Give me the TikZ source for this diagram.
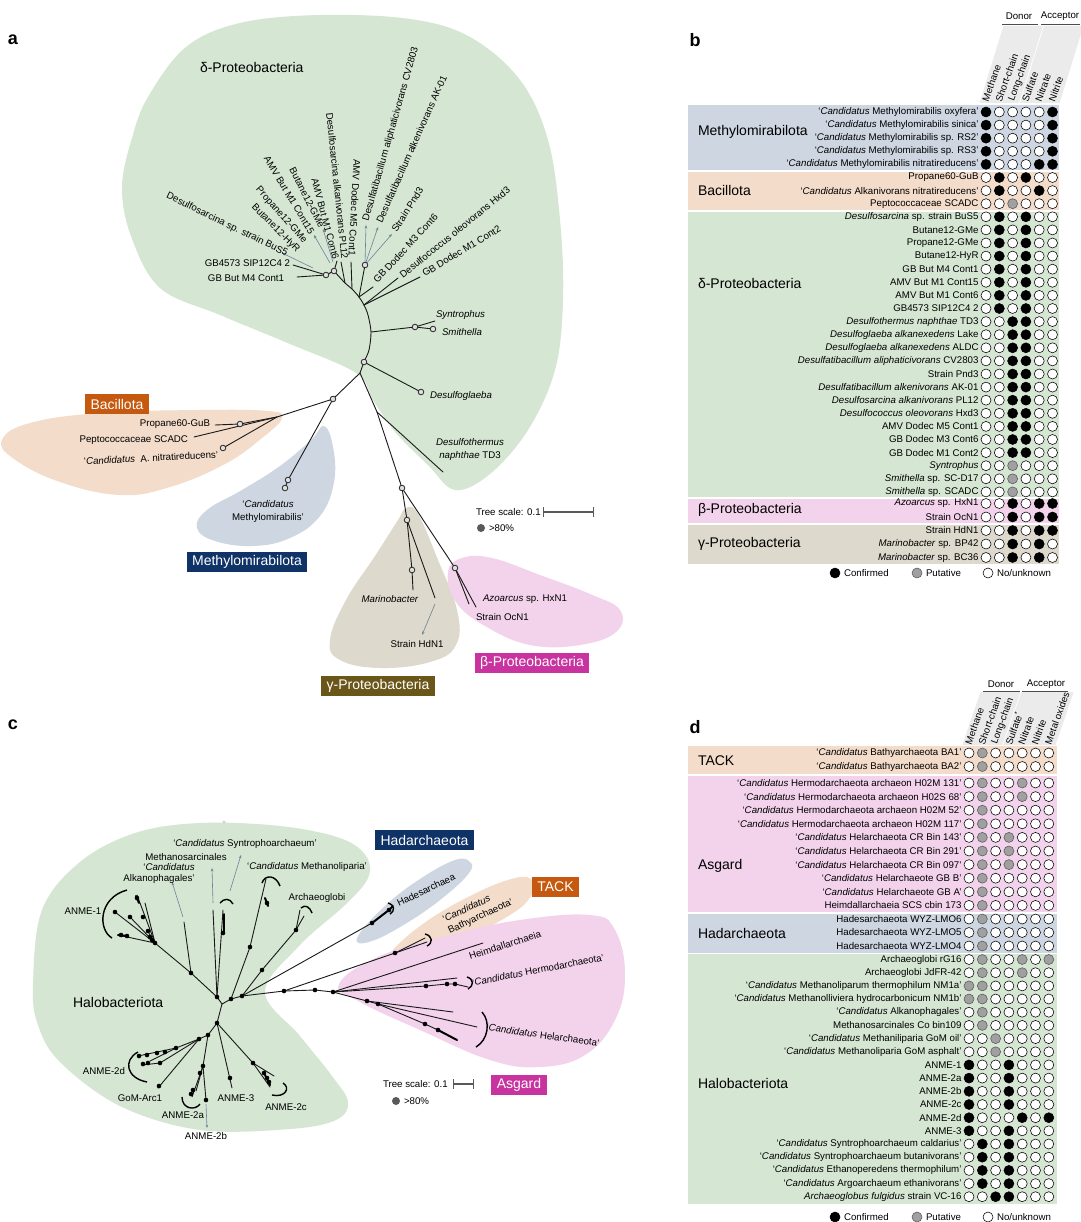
\documentclass[tikz,border=0pt]{standalone}
\usepackage{fontspec}
\setmainfont{Liberation Sans}
\usetikzlibrary{arrows.meta}
\definecolor{cgreen}{HTML}{D5E6D3}
\definecolor{cblue}{HTML}{CDD6E1}
\definecolor{cpeach}{HTML}{F3DCCA}
\definecolor{cpink}{HTML}{F3D3EB}
\definecolor{ctan}{HTML}{DDD9CC}
\definecolor{bxorange}{HTML}{C4590F}
\definecolor{bxnavy}{HTML}{0F3366}
\definecolor{bxolive}{HTML}{6B5619}
\definecolor{bxmag}{HTML}{C8339F}
\definecolor{cgray}{HTML}{A0A0A0}
\definecolor{arrowc}{HTML}{6F819B}
\definecolor{hdrgray}{HTML}{EBEBEB}
\newcommand\Ca{\textit{Candidatus}}
\newcommand\smf{\fontsize{9.7}{12.5}\selectfont}
\newcommand\grpf{\fontsize{14}{16}\selectfont}
\newcommand\trow[5]{%
  \node[rowlab] (#1) at ({#2-7.5},#3) {#4};
  \foreach \cc [count=\jj from 0] in {#5} {\node[c\cc] (#1-\jj) at ({#2+13.3*\jj},#3) {};}%
}
\tikzset{
 sm/.style={font=\smf, inner sep=0pt, outer sep=0pt},
 rowlab/.style={sm, anchor=east},
 grp/.style={font=\grpf, inner sep=0pt, outer sep=0pt, anchor=west},
 cF/.style={circle, draw=black, fill=black, line width=0.55pt, minimum size=10pt, inner sep=0pt, outer sep=0pt},
 cG/.style={cF, draw=black!65, fill=cgray},
 cO/.style={cF, fill=white},
 labbox/.style={font=\grpf, text=white, inner xsep=5.5pt, inner ysep=0pt, minimum height=20pt, outer sep=0pt},
 branch/.style={line width=0.9pt, black!90, line cap=round},
 thk/.style={line width=2pt, black, line cap=round},
 brk/.style={line width=1.4pt, black},
 arr/.style={line width=0.6pt, arrowc, -{Stealth[length=3.5pt,width=2.6pt]}},
 tcirc/.style={line width=0.8pt, draw=black!85, fill=gray!25},
 plet/.style={font=\bfseries\fontsize{18}{20}\selectfont, inner sep=0pt},
 colh/.style={sm, rotate=70, anchor=west},
}
\begin{document}
\begin{tikzpicture}[x=1pt,y=-1pt]
\fill[white] (0,0) rectangle (1080,1222);
\useasboundingbox (0,0) rectangle (1080,1222);

%%%%%%%%%%%%%%%% PANEL A %%%%%%%%%%%%%%%%
\node[plet] (pa) at (13,40) {a};
\fill[cgreen] plot[smooth cycle, tension=0.6] coordinates {(122,187) (132,138) (148,97) (186,47) (240,23) (320,15) (410,19) (470,37) (520,80) (548,140) (560,220) (563,300) (555,370) (528,430) (490,474) (455,490) (428,465) (395,432) (373,400) (356,373) (290,344) (220,315) (160,288) (131,236)};
\fill[cpeach] plot[smooth cycle, tension=0.7] coordinates {(2,440) (30,423) (100,413) (200,410) (268,411) (282,418) (262,438) (225,464) (170,487) (120,495) (60,482) (14,459)};
\fill[cblue] plot[smooth cycle, tension=0.7] coordinates {(324,426) (333,447) (334,482) (320,516) (290,538) (253,546) (215,541) (197,528) (207,510) (242,490) (280,466) (311,440)};
\fill[ctan] plot[smooth cycle, tension=0.7] coordinates {(406,508) (418,514) (438,560) (457,610) (456,645) (430,662) (380,668) (340,660) (330,640) (346,600) (375,556) (398,520)};
\fill[cpink] plot[smooth cycle, tension=0.7] coordinates {(448,572) (462,558) (492,558) (540,575) (590,594) (620,610) (616,632) (580,645) (530,645) (485,626) (456,602)};

\coordinate (c1) at (326,275);
\coordinate (t1) at (334,271);
\coordinate (t2) at (345,283);
\coordinate (tm5) at (352,289);
\coordinate (t3) at (359,297);
\coordinate (t34) at (364,305);
\coordinate (t4) at (368,315);
\coordinate (t5) at (371,332);
\coordinate (t6) at (369,350);
\coordinate (n1) at (364,362);
\coordinate (n2) at (360,373);
\coordinate (n3) at (377,412);
\coordinate (n4) at (402,488);
\draw[branch] plot[smooth, tension=0.5] coordinates {(t1) (t2) (tm5) (t3) (t34) (t4) (t5) (t6) (n1) (n2)};
\draw[branch] (n2) -- (n3) -- (n4);
\coordinate (gb1) at (293,265);
\coordinate (gb2) at (297,277);
\draw[branch] (gb1) -- (c1) -- (t1);
\draw[branch] (gb2) -- (c1);
\coordinate (lc6) at (337,261);
\draw[branch] (t1) -- (lc6);
\coordinate (lpl) at (341,262);
\draw[branch] (t2) -- (lpl);
\coordinate (lm5) at (351,262);
\draw[branch] (tm5) -- (lm5);
\coordinate (dd) at (365,265);
\draw[branch] (t3) -- (dd);
\coordinate (lm3) at (373,287);
\draw[branch] (t3) -- (lm3);
\coordinate (lhx) at (398,278);
\draw[branch] (t34) -- (lhx);
\coordinate (lm1) at (420,277);
\draw[branch] (t34) -- (lm1);
\coordinate (aB0) at (313,268);
\coordinate (aB1) at (282,253);
\draw[arr] (aB0) -- (aB1);
\coordinate (aC0) at (330,263);
\coordinate (aC1) at (314,235);
\draw[arr] (aC0) -- (aC1);
\coordinate (aG0) at (333,262);
\coordinate (aG1) at (323,229);
\draw[arr] (aG0) -- (aG1);
\coordinate (aCV) at (366,225);
\coordinate (aAK) at (378,227);
\coordinate (aPn) at (392,234);
\draw[arr] (dd) -- (aCV);
\draw[arr] (dd) -- (aAK);
\draw[arr] (dd) -- (aPn);
\coordinate (sy0) at (415,327);
\coordinate (sy1) at (433,329);
\coordinate (sy2) at (435,321);
\draw[branch] (t5) -- (sy0) -- (sy1);
\draw[branch] (sy0) -- (sy2);
\coordinate (dg) at (421,392);
\draw[branch] (n1) -- (dg);
\coordinate (dt) at (443,472);
\draw[branch] (n3) -- (dt);
\coordinate (g0) at (407,520);
\coordinate (g1) at (412,570);
\coordinate (g2) at (413,590);
\coordinate (g3) at (435,598);
\draw[branch] (n4) -- (g0) -- (g1) -- (g2);
\draw[branch] (g0) -- (g3);
\coordinate (ga0) at (435,604);
\coordinate (ga1) at (422,635);
\draw[arr] (ga0) -- (ga1);
\coordinate (b0) at (455,568);
\coordinate (b1) at (476,607);
\coordinate (b2) at (469,604);
\draw[branch] (n4) -- (b0) -- (b1);
\draw[branch] (b0) -- (b2);
\coordinate (k0) at (333,399);
\coordinate (k1) at (277,417);
\coordinate (k2) at (240,424);
\coordinate (k3) at (215,425);
\coordinate (k4) at (194,437);
\coordinate (k5) at (223,448);
\draw[branch] (n2) -- (k0) -- (k1) -- (k2) -- (k3);
\draw[branch] (k1) -- (k4);
\draw[branch] (k1) -- (k5);
\coordinate (m0) at (288,480);
\coordinate (m1) at (285,488);
\draw[branch] (k0) -- (m0) -- (m1);
\foreach \p in {c1,t1,dd,sy0,sy1,dg,n1,k0,k2,k5,m0,m1,n4,g0,g1,b0} {\draw[tcirc] (\p) circle[radius=2.8pt];}

\node[grp] (la-delta) at (200,67) {δ-Proteobacteria};
\node[sm,anchor=east] (lGB4573) at (290,263) {GB4573 SIP12C4 2};
\node[sm,anchor=east] (lGBM4) at (284,278) {GB But M4 Cont1};
\node[sm,rotate=-26,anchor=east] (lBuS5) at (287,254) {Desulfosarcina sp. strain BuS5};
\node[sm,rotate=-45,anchor=east] (lHyR) at (298,251) {Butane12-HyR};
\node[sm,rotate=-48.5,anchor=east] (lP12) at (305,242) {Propane12-GMe};
\node[sm,rotate=-59,anchor=east] (lC15) at (312,233) {AMV But M1 Cont15};
\node[sm,rotate=-63,anchor=east] (lB12) at (322,227) {Butane12-GMe};
\node[sm,rotate=-75,anchor=east] (lC6) at (336,259) {AMV But M1 Cont6};
\node[sm,rotate=-84,anchor=east] (lPL12) at (345,259) {Desulfosarcina alkanivorans PL12};
\node[sm,rotate=-93,anchor=east] (lM5) at (352,256) {AMV Dodec M5 Cont1};
\node[sm,rotate=74,anchor=west] (lCV) at (366,221) {Desulfatibacillum aliphaticivorans CV2803};
\node[sm,rotate=66,anchor=west] (lAK) at (379,222) {Desulfatibacillum alkenivorans AK-01};
\node[sm,rotate=58,anchor=west] (lPnd) at (394,231) {Strain Pnd3};
\node[sm,rotate=47,anchor=west] (lM3) at (375,281) {GB Dodec M3 Cont6};
\node[sm,rotate=39,anchor=west] (lHxd) at (401,276) {Desulfococcus oleovorans Hxd3};
\node[sm,rotate=31,anchor=west] (lM1) at (423,274) {GB Dodec M1 Cont2};
\node[sm,anchor=west] (lSyn) at (436,315) {\textit{Syntrophus}};
\node[sm,anchor=west] (lSmi) at (442,332) {\textit{Smithella}};
\node[sm,anchor=west] (lDg) at (430,396) {\textit{Desulfoglaeba}};
\node[sm,align=center] (lDt) at (470,449.5) {\textit{Desulfothermus}\\\textit{naphthae} TD3};
\node[sm,anchor=east] (lP60) at (210,424) {Propane60-GuB};
\node[sm,anchor=east] (lPep) at (188,440) {Peptococcaceae SCADC};
\node[sm,rotate=3] (lAn) at (151,458) {‘\Ca\ \ A. nitratireducens’};
\node[sm,align=center] (lMm) at (268,511.5) {‘\Ca\\Methylomirabilis’};
\node[sm] (lMar) at (390,599) {\textit{Marinobacter}};
\node[sm] (lHd) at (417,644) {Strain HdN1};
\node[sm,anchor=west] (lAz) at (483,599) {\textit{Azoarcus} sp. HxN1};
\node[sm,anchor=west] (lOc) at (476,617) {Strain OcN1};
\node[labbox,fill=bxorange] (bxBac) at (117,404) {Bacillota};
\node[labbox,fill=bxnavy] (bxMet) at (247,562) {Methylomirabilota};
\node[labbox,fill=bxolive] (bxGam) at (378,686) {γ-Proteobacteria};
\node[labbox,fill=bxmag] (bxBet) at (532,663) {β-Proteobacteria};
\node[sm,anchor=west] (tsa) at (476,512) {Tree scale: 0.1};
\coordinate (sba0) at (543,512);
\coordinate (sba1) at (593,512);
\draw[line width=2.6pt, black!65] (sba0) -- (sba1);
\draw[line width=0.8pt, black!65] (543,507) -- (543,517) (593,507) -- (593,517);
\fill[black!65] (481,528) circle[radius=4pt];
\node[sm,anchor=west] (p80a) at (489,528) {>80\%};

%%%%%%%%%%%%%%%% PANEL B %%%%%%%%%%%%%%%%
\node[plet] (pb) at (695,40) {b};
\fill[hdrgray] (979.5,103) -- (1019,103) -- (1043,26) -- (1003.5,26) -- cycle;
\fill[hdrgray] (1020,103) -- (1059.5,103) -- (1083.5,26) -- (1044,26) -- cycle;
\node[sm] (bDonor) at (1019,16) {Donor};
\node[sm] (bAcc) at (1060,16) {Acceptor};
\draw[line width=0.5pt, black!70] (1002,24) -- (1038,24);
\draw[line width=0.5pt, black!70] (1041,24) -- (1080,24);
\foreach \t [count=\j from 0] in {Methane,Short-chain,Long-chain,Sulfate,Nitrate,Nitrite} {\node[colh] (bh\j) at ({985+13.3*\j},101) {\t};}
\fill[cblue] (688,105.5) rectangle (1059,170.5);
\fill[cpeach] (688,172) rectangle (1059,210.5);
\fill[cgreen] (688,212) rectangle (1059,497);
\fill[cpink] (688,498.5) rectangle (1059,523);
\fill[ctan] (688,524.5) rectangle (1059,564);
\node[grp] (bgM) at (698,132) {Methylomirabilota};
\node[grp] (bgB) at (698,190.5) {Bacillota};
\node[grp] (bgD) at (698,283) {δ-Proteobacteria};
\node[grp] (bgBe) at (698,509.5) {β-Proteobacteria};
\node[grp] (bgG) at (698,544) {γ-Proteobacteria};
\trow{b01}{986}{112}{‘\Ca{} Methylomirabilis oxyfera’}{F,O,O,O,O,F}
\trow{b02}{986}{125.1}{‘\Ca{} Methylomirabilis sinica’}{F,O,O,O,O,F}
\trow{b03}{986}{138.2}{‘\Ca{} Methylomirabilis sp. RS2’}{F,O,O,O,O,F}
\trow{b04}{986}{151.3}{‘\Ca{} Methylomirabilis sp. RS3’}{F,O,O,O,O,F}
\trow{b05}{986}{164.4}{‘\Ca{} Methylomirabilis nitratireducens’}{F,O,O,O,F,F}
\trow{b06}{986}{177.5}{Propane60-GuB}{O,F,O,F,O,O}
\trow{b07}{986}{190.6}{‘\Ca{} Alkanivorans nitratireducens’}{O,F,O,O,F,O}
\trow{b08}{986}{203.7}{Peptococcaceae SCADC}{O,O,G,O,O,O}
\trow{b09}{986}{216.8}{\textit{Desulfosarcina} sp. strain BuS5}{O,F,O,F,O,O}
\trow{b10}{986}{229.9}{Butane12-GMe}{O,F,O,F,O,O}
\trow{b11}{986}{243.0}{Propane12-GMe}{O,F,O,F,O,O}
\trow{b12}{986}{256.1}{Butane12-HyR}{O,F,O,F,O,O}
\trow{b13}{986}{269.2}{GB But M4 Cont1}{O,F,O,F,O,O}
\trow{b14}{986}{282.3}{AMV But M1 Cont15}{O,F,O,F,O,O}
\trow{b15}{986}{295.4}{AMV But M1 Cont6}{O,F,O,F,O,O}
\trow{b16}{986}{308.5}{GB4573 SIP12C4 2}{O,F,O,F,O,O}
\trow{b17}{986}{321.6}{\textit{Desulfothermus naphthae} TD3}{O,O,F,F,O,O}
\trow{b18}{986}{334.7}{\textit{Desulfoglaeba alkanexedens} Lake}{O,O,F,F,O,O}
\trow{b19}{986}{347.8}{\textit{Desulfoglaeba alkanexedens} ALDC}{O,O,F,F,O,O}
\trow{b20}{986}{360.9}{\textit{Desulfatibacillum aliphaticivorans} CV2803}{O,O,F,F,O,O}
\trow{b21}{986}{374.0}{Strain Pnd3}{O,O,F,F,O,O}
\trow{b22}{986}{387.1}{\textit{Desulfatibacillum alkenivorans} AK-01}{O,O,F,F,O,O}
\trow{b23}{986}{400.2}{\textit{Desulfosarcina alkanivorans} PL12}{O,O,F,F,O,O}
\trow{b24}{986}{413.3}{\textit{Desulfococcus oleovorans} Hxd3}{O,O,F,F,O,O}
\trow{b25}{986}{426.4}{AMV Dodec M5 Cont1}{O,O,F,F,O,O}
\trow{b26}{986}{439.5}{GB Dodec M3 Cont6}{O,O,F,F,O,O}
\trow{b27}{986}{452.6}{GB Dodec M1 Cont2}{O,O,F,F,O,O}
\trow{b28}{986}{465.7}{\textit{Syntrophus}}{O,O,G,O,O,O}
\trow{b29}{986}{478.8}{\textit{Smithella} sp. SC-D17}{O,O,G,O,O,O}
\trow{b30}{986}{491.9}{\textit{Smithella} sp. SCADC}{O,O,G,O,O,O}
\trow{b31}{986}{503.5}{\textit{Azoarcus} sp. HxN1}{O,O,F,O,F,F}
\trow{b32}{986}{517}{Strain OcN1}{O,O,F,O,F,F}
\trow{b33}{986}{530.5}{Strain HdN1}{O,O,F,O,F,F}
\trow{b34}{986}{544}{\textit{Marinobacter} sp. BP42}{O,O,F,O,F,O}
\trow{b35}{986}{557.5}{\textit{Marinobacter} sp. BC36}{O,O,F,O,F,O}
\node[cF] (bl1) at (835,573) {};
\node[sm,anchor=west] (bl1t) at (844,573) {Confirmed};
\node[cG] (bl2) at (917,573) {};
\node[sm,anchor=west] (bl2t) at (926,573) {Putative};
\node[cO] (bl3) at (988,573) {};
\node[sm,anchor=west] (bl3t) at (997,573) {No/unknown};

%%%%%%%%%%%%%%%% PANEL C %%%%%%%%%%%%%%%%
\node[plet] (pc) at (13,725) {c};
\fill[cgreen] plot[smooth cycle, tension=0.6] coordinates {(33,985) (42,910) (80,862) (135,833) (200,823) (280,826) (340,838) (366,856) (368,878) (345,905) (300,945) (265,992) (300,1036) (332,1076) (348,1102) (336,1120) (290,1129) (200,1130) (120,1106) (60,1062) (38,1025)};
\fill[cblue] plot[smooth cycle, tension=0.7] coordinates {(357,938) (385,906) (420,879) (455,860) (470,862) (469,873) (445,896) (410,921) (372,941)};
\fill[cpeach] plot[smooth cycle, tension=0.7] coordinates {(389,956) (420,926) (470,896) (515,878) (533,881) (531,896) (510,915) (460,940) (410,956)};
\fill[cpink] plot[smooth cycle, tension=0.7] coordinates {(339,984) (380,956) (450,935) (520,920) (590,915) (615,930) (625,975) (615,1020) (585,1055) (540,1067) (490,1060) (420,1030) (360,1002)};
\fill[gray!35] (224,822) circle[radius=1.6pt];
\coordinate (C1) at (217,997);
\coordinate (C2) at (231,999);
\coordinate (C3) at (242,996);
\coordinate (CH) at (284,991);
\coordinate (CT) at (315,990);
\coordinate (CA) at (333,992);
\coordinate (J) at (222,1004);
\draw[branch] (C1) -- (J) -- (C2) -- (C3) -- (CH) -- (CT) -- (CA);
\coordinate (U1) at (191,973);
\coordinate (A1) at (155,943);
\draw[branch] (C1) -- (U1) -- (A1);
\coordinate (a1l1) at (137,895);
\coordinate (a1l2) at (115,912);
\coordinate (a1l3) at (130,917);
\coordinate (a1l4) at (118,935);
\coordinate (a1l5) at (145,903);
\coordinate (a1l6) at (147,930);
\foreach \p in {a1l1,a1l2,a1l3,a1l4,a1l5,a1l6} {\draw[branch] (A1) -- (\p);}
\draw[thk] (118,935) -- (127,936);
\draw[thk] (136,896) -- (139,903);
\coordinate (alk) at (184,922);
\draw[branch] (U1) -- (alk);
\coordinate (alka0) at (183,917);
\coordinate (alka1) at (172,882);
\draw[arr] (alka0) -- (alka1);
\coordinate (msr) at (213,910);
\draw[branch] (C1) -- (msr);
\coordinate (msra0) at (213,903);
\coordinate (msra1) at (212,868);
\draw[arr] (msra0) -- (msra1);
\coordinate (syn) at (223,910);
\draw[branch] (C1) -- (syn);
\draw[thk] (224,914) -- (224,932);
\coordinate (syna0) at (230,891);
\coordinate (syna1) at (241,855);
\draw[arr] (syna0) -- (syna1);
\coordinate (M1) at (250,947);
\coordinate (mlp) at (266,879);
\draw[branch] (C2) -- (M1) -- (mlp);
\draw[thk] (265,898) -- (268,906);
\coordinate (AR1) at (262,970);
\coordinate (AR2) at (296,930);
\coordinate (arl) at (300,910);
\coordinate (arl2) at (304,916);
\draw[branch] (C3) -- (AR1) -- (AR2) -- (arl);
\draw[branch] (AR2) -- (arl2);
\coordinate (L1) at (217,1023);
\coordinate (L2) at (208,1035);
\coordinate (L3) at (199,1039);
\draw[branch] (J) -- (L1) -- (L2) -- (L3);
\coordinate (D1) at (176,1048);
\coordinate (d2a) at (138,1056);
\coordinate (d2b) at (150,1061);
\coordinate (D2) at (160,1063);
\coordinate (d2c) at (142,1065);
\draw[branch] (L3) -- (D1) -- (d2a);
\draw[branch] (D1) -- (d2b);
\draw[branch] (L3) -- (D2) -- (d2c);
\coordinate (gom) at (158,1088);
\draw[branch] (L3) -- (gom);
\coordinate (E1) at (203,1066);
\coordinate (e1) at (192,1097);
\coordinate (e2) at (196,1091);
\coordinate (E2) at (206,1100);
\draw[branch] (L2) -- (E1) -- (e1);
\draw[branch] (E1) -- (e2);
\draw[branch] (E1) -- (E2);
\coordinate (ea0) at (206,1104);
\coordinate (ea1) at (207,1128);
\draw[arr] (ea0) -- (ea1);
\coordinate (a3) at (232,1088);
\draw[branch] (L1) -- (a3);
\coordinate (F1) at (253,1063);
\coordinate (f1) at (274,1076);
\coordinate (f2) at (270,1087);
\draw[branch] (L1) -- (F1) -- (f1);
\draw[branch] (F1) -- (f2);
\draw[thk] (264,1073) -- (270,1085);
\coordinate (HD1) at (372,923);
\coordinate (HD2) at (389,910);
\coordinate (hd) at (393,906);
\draw[branch] (C3) -- (HD1);
\draw[thk] (HD1) -- (HD2) -- (hd);
\coordinate (TK1) at (395,953);
\coordinate (tk1) at (425,938);
\coordinate (tk2) at (427,942);
\draw[branch] (CH) -- (TK1) -- (tk1);
\draw[branch] (TK1) -- (tk2);
\coordinate (hm) at (483,943);
\draw[branch] (CA) -- (hm);
\coordinate (HM1) at (426,986);
\coordinate (HM2) at (447,984);
\coordinate (HM3) at (455,984);
\coordinate (hmx) at (468,987);
\coordinate (hm2) at (457,978);
\draw[branch] (CA) -- (HM1) -- (HM2) -- (HM3) -- (hmx);
\draw[branch] (CA) -- (hm2);
\coordinate (HL1) at (367,1001);
\coordinate (HL2) at (378,1004);
\coordinate (hl1) at (453,1012);
\coordinate (hl2) at (477,1027);
\coordinate (HL3) at (425,1024);
\coordinate (HL4) at (438,1030);
\coordinate (hl3) at (457,1040);
\draw[branch] (CA) -- (HL1) -- (hl1);
\draw[branch] (HL1) -- (HL2) -- (hl2);
\draw[branch] (HL2) -- (HL3) -- (HL4);
\draw[thk] (HL4) -- (hl3);
\foreach \p in {C1,C2,C3,CH,CT,CA,U1,A1,M1,AR1,AR2,L1,L2,L3,D1,D2,E1,E2,F1,HD1,HD2,TK1,HM1,HM2,HM3,HL1,HL2,HL3,HL4,a1l2,a1l3} {\fill (\p) circle[radius=2.3pt];}
\foreach \q in {(150,937),(148,931),(143,917),(137,898),(121,935),(127,936),(152,940),(223,933),(267,903),(147,1055),(157,1053),(165,1052),(139,1056),(143,1064),(148,1063),(159,1086),(200,1073),(193,1090),(191,1094),(230,1078),(264,1073),(267,1078),(269,1082)} {\fill \q circle[radius=2.3pt];}
\draw[brk] (127,890) .. controls (98,898) and (98,930) .. (112,938);
\draw[brk] (262,883) .. controls (265,874) and (276,875) .. (280,886);
\draw[brk] (301,908) .. controls (305,904) and (310,907) .. (312,913);
\draw[brk] (220,903) .. controls (224,898) and (230,898) .. (233,904);
\draw[brk] (138,1052) .. controls (123,1060) and (126,1078) .. (147,1082);
\draw[brk] (182,1097) .. controls (182,1109) and (195,1111) .. (200,1104);
\draw[brk] (283,1083) .. controls (291,1088) and (285,1098) .. (272,1095);
\draw[brk] (388,903) .. controls (395,905) and (395,911) .. (390,914);
\draw[brk] (425,934) .. controls (433,936) and (433,943) .. (427,946);
\draw[brk] (467,977) .. controls (474,979) and (474,986) .. (468,989);
\draw[brk] (482,1012) .. controls (491,1022) and (488,1040) .. (476,1047);
\node[sm] (cSyn) at (245,844) {‘\Ca\ Syntrophoarchaeum’};
\node[sm] (cMsr) at (186,857) {Methanosarcinales};
\node[sm] (cCa1) at (169,867.5) {‘\Ca};
\node[sm] (cAlk) at (159,879) {Alkanophagales’};
\node[sm] (cMlp) at (307,867) {‘\Ca\ Methanoliparia’};
\node[sm] (cArc) at (317,898) {Archaeoglobi};
\node[sm] (cA1) at (83,911) {ANME-1};
\node[grp] (cHalo) at (73,1002) {Halobacteriota};
\node[sm] (cA2d) at (104,1071) {ANME-2d};
\node[sm] (cGom) at (140,1098) {GoM-Arc1};
\node[sm] (cA2a) at (183,1115) {ANME-2a};
\node[sm] (cA2b) at (206,1136) {ANME-2b};
\node[sm] (cA3) at (236,1098) {ANME-3};
\node[sm] (cA2c) at (286,1107) {ANME-2c};
\node[sm,rotate=26] (cHad) at (426,890) {Hadesarchaea};
\node[sm,rotate=25,align=left] (cBat) at (478,911) {‘\Ca\\Bathyarchaeota’};
\node[sm,rotate=18] (cHeim) at (505,945) {Heimdallarchaeia};
\node[sm,rotate=11] (cHerm) at (538,970) {‘\Ca\ Hermodarchaeota’};
\node[sm,rotate=-8] (cHel) at (543,1035) {‘\Ca\ Helarchaeota’};
\node[labbox,fill=bxnavy] (bxHad) at (424.5,840) {Hadarchaeota};
\node[labbox,fill=bxorange] (bxTack) at (555.5,886.5) {TACK};
\node[labbox,fill=bxmag] (bxAsg) at (519,1084.5) {Asgard};
\node[sm,anchor=west] (tsc) at (383,1084) {Tree scale: 0.1};
\coordinate (sbc0) at (453,1084);
\coordinate (sbc1) at (473,1084);
\draw[line width=2.6pt, black!65] (sbc0) -- (sbc1);
\draw[line width=0.8pt, black!65] (453,1079) -- (453,1089) (473,1079) -- (473,1089);
\fill[black!65] (396,1101) circle[radius=4pt];
\node[sm,anchor=west] (p80c) at (404,1101) {>80\%};

%%%%%%%%%%%%%%%% PANEL D %%%%%%%%%%%%%%%%
\node[plet] (pd) at (695,727) {d};
\fill[hdrgray] (962.3,745) -- (1002.2,745) -- (1020.4,692) -- (980.5,692) -- cycle;
\fill[hdrgray] (1003.2,745) -- (1055.5,745) -- (1073.7,692) -- (1021.4,692) -- cycle;
\node[sm] (dDonor) at (1001,684) {Donor};
\node[sm] (dAcc) at (1046,684) {Acceptor};
\draw[line width=0.5pt, black!70] (983,691) -- (1020,691);
\draw[line width=0.5pt, black!70] (1022,691) -- (1068,691);
\foreach \t [count=\j from 0] in {Methane,Short-chain,Long-chain,Sulfate\textsuperscript{*},Nitrate,Nitrite,Metal oxides} {\node[colh] (dh\j) at ({968+13.3*\j},744) {\t};}
\fill[cpeach] (688,746) rectangle (1057,773.5);
\fill[cpink] (688,775.5) rectangle (1057,912);
\fill[cblue] (688,913.5) rectangle (1057,952.5);
\fill[cgreen] (688,954) rectangle (1057,1203.5);
\node[grp] (dgT) at (698,761) {TACK};
\node[grp] (dgA) at (698,866) {Asgard};
\node[grp] (dgH) at (698,933) {Hadarchaeota};
\node[grp] (dgHa) at (698,1083) {Halobacteriota};
\trow{d01}{969}{753}{‘\Ca{} Bathyarchaeota BA1’}{O,G,O,O,O,O,O}
\trow{d02}{969}{766.5}{‘\Ca{} Bathyarchaeota BA2’}{O,G,O,O,O,O,O}
\trow{d03}{969}{783}{‘\Ca{} Hermodarchaeota archaeon H02M 131’}{O,G,O,O,G,O,O}
\trow{d04}{969}{796.6}{‘\Ca{} Hermodarchaeota archaeon H02S 68’}{O,G,O,O,G,O,O}
\trow{d05}{969}{810.2}{‘\Ca{} Hermodarchaeota archaeon H02M 52’}{O,G,O,O,O,O,O}
\trow{d06}{969}{823.8}{‘\Ca{} Hermodarchaeota archaeon H02M 117’}{O,G,O,O,O,O,O}
\trow{d07}{969}{837.4}{‘\Ca{} Helarchaeota CR Bin 143’}{O,G,O,G,O,O,O}
\trow{d08}{969}{851}{‘\Ca{} Helarchaeota CR Bin 291’}{O,G,O,G,O,O,O}
\trow{d09}{969}{864.6}{‘\Ca{} Helarchaeota CR Bin 097’}{O,G,O,G,O,O,O}
\trow{d10}{969}{878.2}{‘\Ca{} Helarchaeote GB B’}{O,G,O,O,O,O,O}
\trow{d11}{969}{891.8}{‘\Ca{} Helarchaeote GB A’}{O,G,O,O,O,O,O}
\trow{d12}{969}{905.4}{Heimdallarchaeia SCS cbin 173}{O,G,O,O,O,O,O}
\trow{d13}{969}{919}{Hadesarchaeota WYZ-LMO6}{O,G,O,O,O,O,O}
\trow{d14}{969}{932.5}{Hadesarchaeota WYZ-LMO5}{O,G,O,O,O,O,O}
\trow{d15}{969}{946}{Hadesarchaeota WYZ-LMO4}{O,G,O,O,O,O,O}
\trow{d16}{969}{959.5}{Archaeoglobi rG16}{O,G,O,O,G,O,G}
\trow{d17}{969}{972.7}{Archaeoglobi JdFR-42}{O,G,O,O,G,O,O}
\trow{d18}{969}{985.9}{‘\Ca{} Methanoliparum thermophilum NM1a’}{G,G,O,O,O,O,O}
\trow{d19}{969}{999.0}{‘\Ca{} Methanolliviera hydrocarbonicum NM1b’}{G,G,O,O,O,O,O}
\trow{d20}{969}{1012.2}{‘\Ca{} Alkanophagales’}{O,G,O,O,O,O,O}
\trow{d21}{969}{1025.4}{Methanosarcinales Co bin109}{O,G,O,O,O,O,O}
\trow{d22}{969}{1038.6}{‘\Ca{} Methaniliparia GoM oil’}{O,O,G,O,O,O,O}
\trow{d23}{969}{1051.8}{‘\Ca{} Methanoliparia GoM asphalt’}{O,O,G,O,O,O,O}
\trow{d24}{969}{1064.9}{ANME-1}{F,O,O,F,O,O,O}
\trow{d25}{969}{1078.1}{ANME-2a}{F,O,O,F,O,O,O}
\trow{d26}{969}{1091.3}{ANME-2b}{F,O,O,F,O,O,O}
\trow{d27}{969}{1104.5}{ANME-2c}{F,O,O,F,O,O,O}
\trow{d28}{969}{1117.7}{ANME-2d}{F,O,O,O,F,O,F}
\trow{d29}{969}{1130.8}{ANME-3}{F,O,O,F,O,O,O}
\trow{d30}{969}{1144.0}{‘\Ca{} Syntrophoarchaeum caldarius’}{O,F,O,F,O,O,O}
\trow{d31}{969}{1157.2}{‘\Ca{} Syntrophoarchaeum butanivorans’}{O,F,O,F,O,O,O}
\trow{d32}{969}{1170.4}{‘\Ca{} Ethanoperedens thermophilum’}{O,F,O,F,O,O,O}
\trow{d33}{969}{1183.6}{‘\Ca{} Argoarchaeum ethanivorans’}{O,F,O,F,O,O,O}
\trow{d34}{969}{1196.7}{\textit{Archaeoglobus fulgidus} strain VC-16}{O,O,F,F,O,O,O}
\node[cF] (dl1) at (835,1217) {};
\node[sm,anchor=west] (dl1t) at (844,1217) {Confirmed};
\node[cG] (dl2) at (917,1217) {};
\node[sm,anchor=west] (dl2t) at (926,1217) {Putative};
\node[cO] (dl3) at (988,1217) {};
\node[sm,anchor=west] (dl3t) at (997,1217) {No/unknown};
\end{tikzpicture}
\end{document}
